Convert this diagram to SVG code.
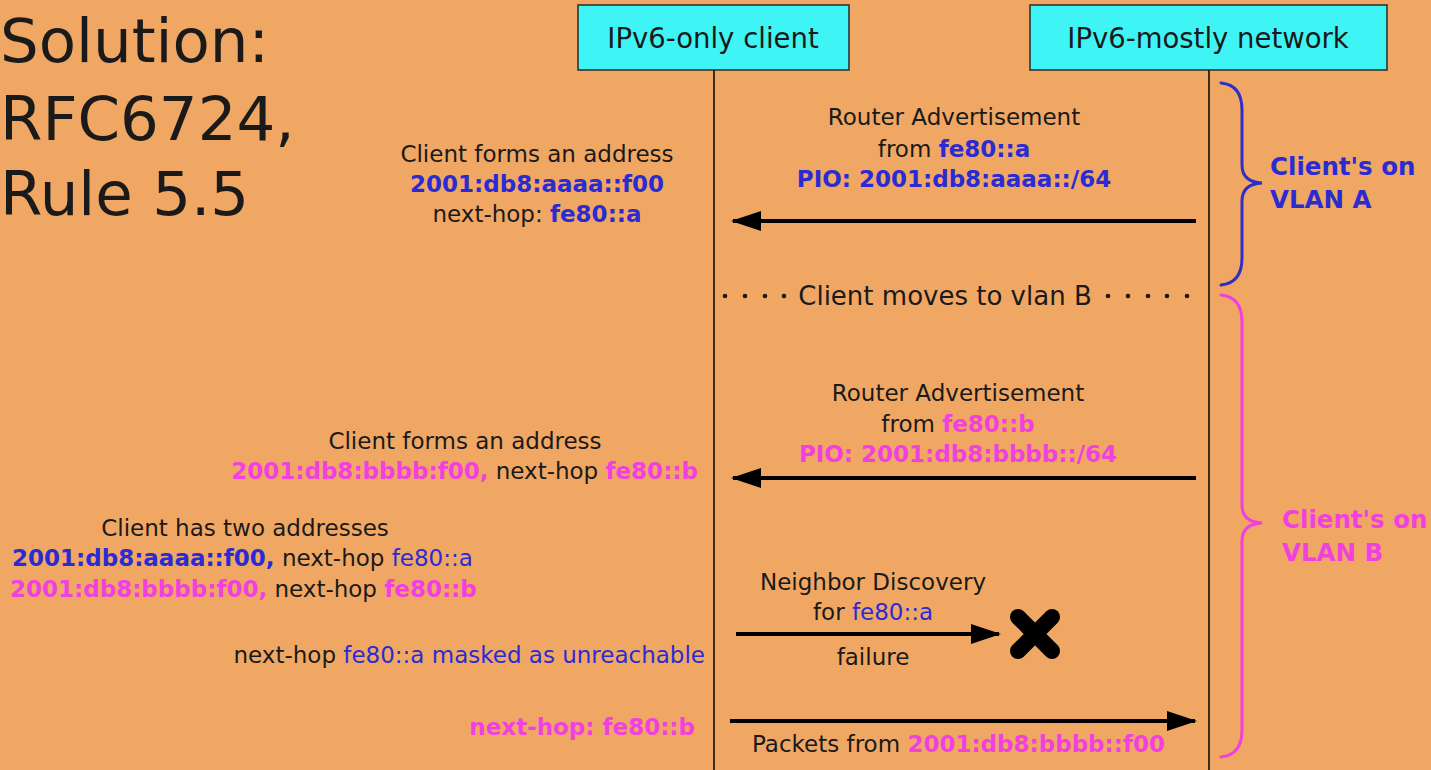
<svg xmlns="http://www.w3.org/2000/svg" width="1431" height="770" viewBox="0 0 1431 770">
  <defs>
    <style>
      .t { font-family: "DejaVu Sans", "Liberation Sans", sans-serif; fill: #1a1a1a; }
      .m { font-size: 23px; text-anchor: middle; }
      .l { font-size: 23px; }
      .b { fill: #2b2bd4; }
      .p { fill: #f040e0; }
      .bd { font-weight: bold; }
      .title { font-size: 61px; }
      .hdr { font-size: 27.5px; text-anchor: middle; }
      .box { fill: #3ef4f4; stroke: #2a2a2a; stroke-width: 1.5; }
      .life { stroke: #2a1e10; stroke-width: 1.8; fill: none; }
      .msg { stroke: #000; stroke-width: 4; fill: none; }
      .brace { fill: none; stroke-width: 3; stroke-linecap: round; }
      .vlan { font-size: 24.5px; font-weight: bold; }
    </style>
    <marker id="head" viewBox="0 0 15 10" refX="14" refY="5" markerWidth="7.5" markerHeight="5" markerUnits="strokeWidth" orient="auto">
      <path d="M0,0 L15,5 L0,10 Z" fill="#000"/>
    </marker>
  </defs>

  <rect x="0" y="0" width="1431" height="770" fill="#f1a764"/>

  <!-- slide title -->
  <g id="title">
    <text class="t title" x="0" y="62">Solution:</text>
    <text class="t title" x="0" y="140">RFC6724,</text>
    <text class="t title" x="0" y="215">Rule 5.5</text>
  </g>

  <!-- participants -->
  <g id="client">
    <rect class="box" x="578" y="5" width="271" height="65"/>
    <text class="t hdr" x="713" y="48">IPv6-only client</text>
  </g>
  <g id="network">
    <rect class="box" x="1030" y="5" width="357" height="65"/>
    <text class="t hdr" x="1208" y="48">IPv6-mostly network</text>
  </g>

  <!-- lifelines and messages -->
  <g id="connectors">
    <line class="life" x1="714" y1="70" x2="714" y2="770"/>
    <line class="life" x1="1209" y1="70" x2="1209" y2="770"/>
    <line class="msg" x1="1196" y1="221" x2="733" y2="221" marker-end="url(#head)"/>
    <line class="msg" x1="1196" y1="478" x2="733" y2="478" marker-end="url(#head)"/>
    <line class="msg" x1="736" y1="634" x2="999" y2="634" marker-end="url(#head)"/>
    <line class="msg" x1="730" y1="721" x2="1195" y2="721" marker-end="url(#head)"/>
  </g>

  <!-- first router advertisement -->
  <g id="ra-a">
    <text class="t m" x="954" y="125">Router Advertisement</text>
    <text class="t m" x="954" y="157">from <tspan class="b bd">fe80::a</tspan></text>
    <text class="t m b bd" x="954" y="187">PIO: 2001:db8:aaaa::/64</text>
  </g>
  <g id="addr-a">
    <text class="t m" x="537" y="162">Client forms an address</text>
    <text class="t m b bd" x="537" y="192">2001:db8:aaaa::f00</text>
    <text class="t m" x="537" y="222">next-hop: <tspan class="b bd">fe80::a</tspan></text>
  </g>

  <!-- VLAN A span -->
  <g id="vlan-a">
    <path class="brace" stroke="#2e2ec8" d="M1221,83 Q1242,85 1242,110 L1242,165 Q1242,182 1262,183 Q1242,184 1242,201 L1242,258 Q1242,283 1221,285"/>
    <text class="t vlan b" x="1270" y="175">Client's on</text>
    <text class="t vlan b" x="1270" y="208">VLAN A</text>
  </g>

  <!-- move between VLANs -->
  <g id="move">
    <g fill="#1a1a1a">
      <circle cx="725" cy="296" r="2.3"/>
      <circle cx="745" cy="296" r="2.3"/>
      <circle cx="765" cy="296" r="2.3"/>
      <circle cx="784" cy="296" r="2.3"/>
      <circle cx="1108" cy="296" r="2.3"/>
      <circle cx="1128" cy="296" r="2.3"/>
      <circle cx="1148" cy="296" r="2.3"/>
      <circle cx="1167" cy="296" r="2.3"/>
      <circle cx="1187" cy="296" r="2.3"/>
    </g>
    <text class="t" x="945" y="305" font-size="26" text-anchor="middle">Client moves to vlan B</text>
  </g>

  <!-- second router advertisement -->
  <g id="ra-b">
    <text class="t m" x="958" y="401">Router Advertisement</text>
    <text class="t m" x="958" y="432">from <tspan class="p bd">fe80::b</tspan></text>
    <text class="t m p bd" x="958" y="462">PIO: 2001:db8:bbbb::/64</text>
  </g>
  <g id="addr-b">
    <text class="t m" x="465" y="449">Client forms an address</text>
    <text class="t l" x="698" y="479" text-anchor="end"><tspan class="p bd">2001:db8:bbbb:f00,</tspan> next-hop <tspan class="p bd">fe80::b</tspan></text>
  </g>

  <!-- VLAN B span -->
  <g id="vlan-b">
    <path class="brace" stroke="#f040e0" d="M1221,295 Q1242,297 1242,322 L1242,505 Q1242,522 1262,523 Q1242,524 1242,541 L1242,730 Q1242,755 1221,757"/>
    <text class="t vlan p" x="1282" y="528">Client's on</text>
    <text class="t vlan p" x="1282" y="561">VLAN B</text>
  </g>

  <!-- both addresses -->
  <g id="two-addr">
    <text class="t m" x="245" y="536">Client has two addresses</text>
    <text class="t l" x="12" y="566"><tspan class="b bd">2001:db8:aaaa::f00,</tspan> next-hop <tspan class="b">fe80::a</tspan></text>
    <text class="t l" x="10" y="597"><tspan class="p bd">2001:db8:bbbb:f00,</tspan> next-hop <tspan class="p bd">fe80::b</tspan></text>
  </g>

  <!-- neighbor discovery failure -->
  <g id="nd">
    <text class="t m" x="873" y="590">Neighbor Discovery</text>
    <text class="t m" x="873" y="620">for <tspan class="b">fe80::a</tspan></text>
    <text class="t m" x="873" y="665">failure</text>
    <g stroke="#000" stroke-width="16" stroke-linecap="round">
      <line x1="1018" y1="617" x2="1052" y2="651"/>
      <line x1="1052" y1="617" x2="1018" y2="651"/>
    </g>
  </g>
  <g id="unreach">
    <text class="t l" x="705" y="663" text-anchor="end">next-hop <tspan class="b">fe80::a masked as unreachable</tspan></text>
  </g>

  <!-- traffic on new prefix -->
  <g id="packets">
    <text class="t l p bd" x="695" y="735" text-anchor="end">next-hop: fe80::b</text>
    <text class="t l" x="752" y="752">Packets from <tspan class="p bd">2001:db8:bbbb::f00</tspan></text>
  </g>
</svg>
